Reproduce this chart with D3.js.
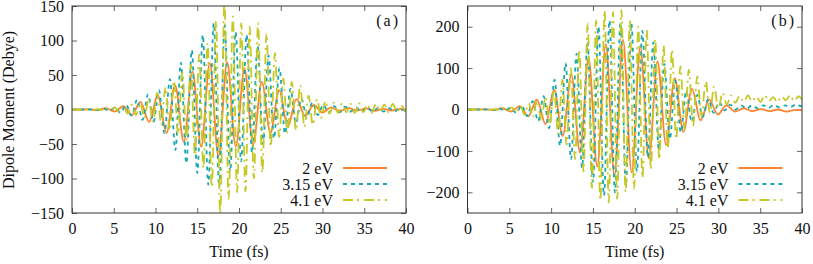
<!DOCTYPE html>
<html lang="en">
<head>
    <meta charset="UTF-8">
    <title>Dipole Moment vs Time</title>
    <script src="https://d3js.org/d3.v7.min.js"></script>
    <style>
        body { margin: 0; background: #fff; }
        text { font-family: "Liberation Serif", "Times New Roman", serif; fill: #111; }
    </style>
</head>
<body>
    <svg width="813" height="264"></svg>

    <script>
        // ---- data ----
        // each series is sampled at its oscillation extrema: start time (fs), step (fs), values (Debye)
        const timeTicks = [0, 5, 10, 15, 20, 25, 30, 35, 40];
        const yTicksA = [-150, -100, -50, 0, 50, 100, 150];
        const yTicksB = [-200, -100, 0, 100, 200];
        const energyLabels = ["2 eV", "3.15 eV", "4.1 eV"];

        // panel (a)
        const startA = [0.94, 0.574, 0.11];
        const stepA = [1.0375, 0.656, 0.504];
        const dip2eV_a = [0, 0.3, -1, 2, -3, 5, -8, 11, -18, 21, -34, 35, -47, 55, -54, 67, -68, 69, -54, 60,
            -51, 40, -34, 28, -25, 15, -9.5, 6.5, -4.5, 3, -2, 2, -1.5, 1.5, -2, 1, -1.5, 1, -1];
        const dip315eV_a = [0, 0, 0, 0.3, -0.5, 1, -2, 3, -5, 7, -9, 14, -15, 22, -18, 28, -34, 44, -59, 68,
            -78, 86, -92, 108, -109, 125, -112, 122, -90, 112, -75, 108, -62, 92, -50, 78, -42, 60, -35, 30,
            -20, 16, -12, 10, -8, 7, -5, 5, -4, 4, -3, 3, -3, 3, -3, 2, -3, 2, -3, 2, -2, 2];
        const dip41eV_a = [0, 0, 0, 0, 0.3, -0.3, 0.5, -0.8, 1.5, -2, 3, -4, 5, -6, 7, -8, 10, -12, 16, -18,
            24, -22, 32, -30, 42, -36, 54, -44, 65, -66, 80, -85, 96, -112, 128, -150, 155, -130, 135, -120,
            125, -119, 120, -100, 125, -92, 110, -54, 82, -40, 45, -34, 40, -30, 35, -25, 20, -22, 15, -12,
            12, -6, 10, -5, 9, -4, 8, -5, 9, -4, 7, -5, 8, -3, 7, -4, 8, -3, 6, -2, 6];

        // panel (b)
        const startB = [1.09, 0.574, 0.26];
        const stepB = [1.03, 0.656, 0.504];
        const dip2eV_b = [0, 0.5, -1, 3, -5, 8, -16, 24, -35, 48, -64, 84, -104, 124, -138, 158, -160, 168, -152, 152,
            -118, 116, -86, 76, -54, 50, -26, 24, -12, 10, -5, 3, -4, 1, -4, 0, -5, -1, -2];
        const dip315eV_b = [0, 0, 0, 0.5, -1, 2, -3, 5, -8, 10, -16, 20, -28, 32, -45, 72, -88, 112, -120, 135,
            -140, 160, -175, 200, -208, 215, -200, 210, -180, 208, -150, 190, -115, 162, -95, 110, -72, 70, -55, 45,
            -30, 35, -18, 25, -8, 18, -2, 12, 0, 10, 2, 10, 3, 10, 4, 11, 5, 10, 6, 12, 8, 12];
        const dip41eV_b = [0, 0, 0, 0, 0.5, -0.5, 1, -1.5, 3, -4, 5, -7, 9, -12, 15, -18, 22, -26, 30, -36,
            48, -58, 72, -85, 100, -120, 144, -150, 208, -190, 215, -220, 240, -225, 236, -216, 240, -200, 215, -192,
            200, -165, 192, -144, 170, -120, 155, -95, 144, -72, 104, -50, 96, -40, 80, -16, 68, -8, 56, 2,
            40, 12, 34, 16, 32, 18, 34, 20, 32, 18, 34, 20, 30, 18, 32, 22, 34, 20, 32, 22];

        // ---- layout / style ----
        const plotTop = 6, plotBottom = 213;
        const colors = ["#fb8430", "#17a8b3", "#c6c826"];
        const dashes = [null, "4,4", "10,4,2,5"];

        const svg = d3.select("svg");

        function makeSeries(starts, steps, arrays) {
            return arrays.map((vals, k) =>
                [{ t: 0, v: 0 }].concat(vals.map((v, i) => ({ t: starts[k] + i * steps[k], v }))));
        }

        function drawPanel(cfg) {
            const x = d3.scaleLinear().domain([0, 40]).range([cfg.left, cfg.right]);
            const y = d3.scaleLinear().domain(cfg.yDomain).range([plotBottom, plotTop]);
            const g = svg.append("g");

            const clipId = "clip-" + cfg.name;
            svg.append("clipPath").attr("id", clipId)
                .append("rect")
                .attr("x", cfg.left).attr("y", plotTop)
                .attr("width", cfg.right - cfg.left).attr("height", plotBottom - plotTop);

            // axes with inward ticks, mirrored on top/right
            const tl = 5;
            g.append("g").attr("transform", `translate(0,${plotBottom})`)
                .call(d3.axisBottom(x).tickValues(timeTicks).tickSize(-tl).tickPadding(10).tickFormat(d3.format("d")));
            g.append("g").attr("transform", `translate(0,${plotTop})`)
                .call(d3.axisTop(x).tickValues(timeTicks).tickSize(-tl).tickFormat(""));
            g.append("g").attr("transform", `translate(${cfg.left},0)`)
                .call(d3.axisLeft(y).tickValues(cfg.yTicks).tickSize(-tl).tickPadding(8).tickFormat(d3.format("d")));
            g.append("g").attr("transform", `translate(${cfg.right},0)`)
                .call(d3.axisRight(y).tickValues(cfg.yTicks).tickSize(-tl).tickFormat(""));
            g.selectAll(".domain").remove();
            g.selectAll(".tick line").attr("stroke", "#666");
            g.selectAll(".tick text").style("font-size", "16px")
                .style("font-family", "'Liberation Serif', serif").attr("fill", "#111");

            // curves
            const line = d3.line().x(d => x(d.t)).y(d => y(d.v)).curve(d3.curveMonotoneX);
            const series = makeSeries(cfg.starts, cfg.steps, cfg.values);
            const lines = g.append("g").attr("clip-path", `url(#${clipId})`);
            series.forEach((s, k) => {
                lines.append("path").datum(s)
                    .attr("fill", "none")
                    .attr("stroke", colors[k])
                    .attr("stroke-width", 1.8)
                    .attr("stroke-dasharray", dashes[k])
                    .attr("d", line);
            });

            // frame
            g.append("rect")
                .attr("x", cfg.left).attr("y", plotTop)
                .attr("width", cfg.right - cfg.left).attr("height", plotBottom - plotTop)
                .attr("fill", "none").attr("stroke", "#333").attr("stroke-width", 1);

            // legend
            const legY = [168, 184, 200];
            energyLabels.forEach((lab, k) => {
                g.append("text")
                    .attr("x", cfg.left + 261).attr("y", legY[k])
                    .attr("dy", "0.35em").attr("text-anchor", "end")
                    .style("font-size", "16px").text(lab);
                g.append("line")
                    .attr("x1", cfg.left + 271).attr("x2", cfg.left + 315)
                    .attr("y1", legY[k]).attr("y2", legY[k])
                    .attr("stroke", colors[k]).attr("stroke-width", 1.8)
                    .attr("stroke-dasharray", dashes[k]);
            });

            // panel tag
            g.append("text")
                .attr("x", cfg.right - 6).attr("y", 20).attr("dy", "0.35em")
                .attr("text-anchor", "end").style("font-size", "16px")
                .style("letter-spacing", "2px")
                .text(cfg.tag);

            // x label
            g.append("text")
                .attr("x", (cfg.left + cfg.right) / 2).attr("y", 257)
                .attr("text-anchor", "middle").style("font-size", "16px")
                .text("Time (fs)");
        }

        drawPanel({
            name: "a", tag: "(a)", left: 72, right: 406,
            yDomain: [-150, 150], yTicks: yTicksA,
            starts: startA, steps: stepA, values: [dip2eV_a, dip315eV_a, dip41eV_a]
        });
        drawPanel({
            name: "b", tag: "(b)", left: 467.5, right: 802,
            yDomain: [-250, 250], yTicks: yTicksB,
            starts: startB, steps: stepB, values: [dip2eV_b, dip315eV_b, dip41eV_b]
        });

        svg.append("text")
            .attr("transform", "translate(14,110) rotate(-90)")
            .attr("text-anchor", "middle").style("font-size", "16px")
            .text("Dipole Moment (Debye)");
    </script>
</body>
</html>
